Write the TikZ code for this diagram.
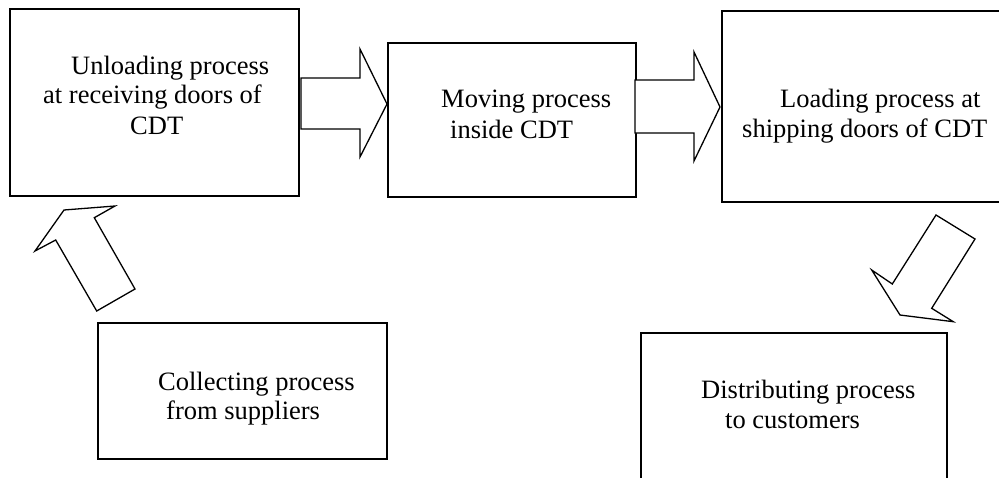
\documentclass[tikz,border=0pt]{standalone}
\usepackage{fontspec}
\setmainfont{Liberation Serif}
\begin{document}
\begin{tikzpicture}[x=1pt,y=-1pt,
  box/.style={draw=black, line width=1.8pt, anchor=north west, inner sep=0pt, fill=none},
  txt/.style={anchor=base west, inner sep=0pt, font=\fontsize{26.5}{30}\selectfont},
  blockarrow/.style={draw=black, line width=1.3pt, fill=white, line join=miter}]
\clip (0,0) rectangle (999,477);
% boxes
\node[box, minimum width=289pt, minimum height=187pt] (b1) at (9,8) {};
\node[box, minimum width=248pt, minimum height=154pt] (b2) at (387,42) {};
\node[box, minimum width=300pt, minimum height=191pt] (b3) at (721,10) {};
\node[box, minimum width=289pt, minimum height=136pt] (b4) at (97,322) {};
\node[box, minimum width=306pt, minimum height=170pt] (b5) at (640,332) {};
% texts
\node[txt] (t1a) at (71,74) {Unloading process};
\node[txt] (t1b) at (43,103) {at receiving doors of};
\node[txt] (t1c) at (130,134) {CDT};
\node[txt] (t2a) at (441,107) {Moving process};
\node[txt] (t2b) at (450,138) {inside CDT};
\node[txt] (t3a) at (780,107) {Loading process at};
\node[txt] (t3b) at (742,137) {shipping doors of CDT};
\node[txt] (t4a) at (158,390) {Collecting process};
\node[txt] (t4b) at (166,419) {from suppliers};
\node[txt] (t5a) at (701,398) {Distributing process};
\node[txt] (t5b) at (725,428) {to customers};
% block arrows
\draw[blockarrow] (301,78) -- (360,78) -- (360,49) -- (387,104) -- (360,157) -- (360,129) -- (301,129) -- cycle;
\draw[blockarrow] (635,80) -- (694,80) -- (694,52) -- (720,107) -- (694,161) -- (694,133) -- (635,133) -- cycle;
\draw[blockarrow] (96.7,311) -- (55.7,240) -- (35,251) -- (64,210) -- (115,206) -- (94.3,217.7) -- (135,289) -- cycle;
\draw[blockarrow] (936,215) -- (975,239) -- (931.7,308.3) -- (953.3,321.7) -- (900,315) -- (871.7,270) -- (892.3,284) -- cycle;
\end{tikzpicture}
\end{document}
